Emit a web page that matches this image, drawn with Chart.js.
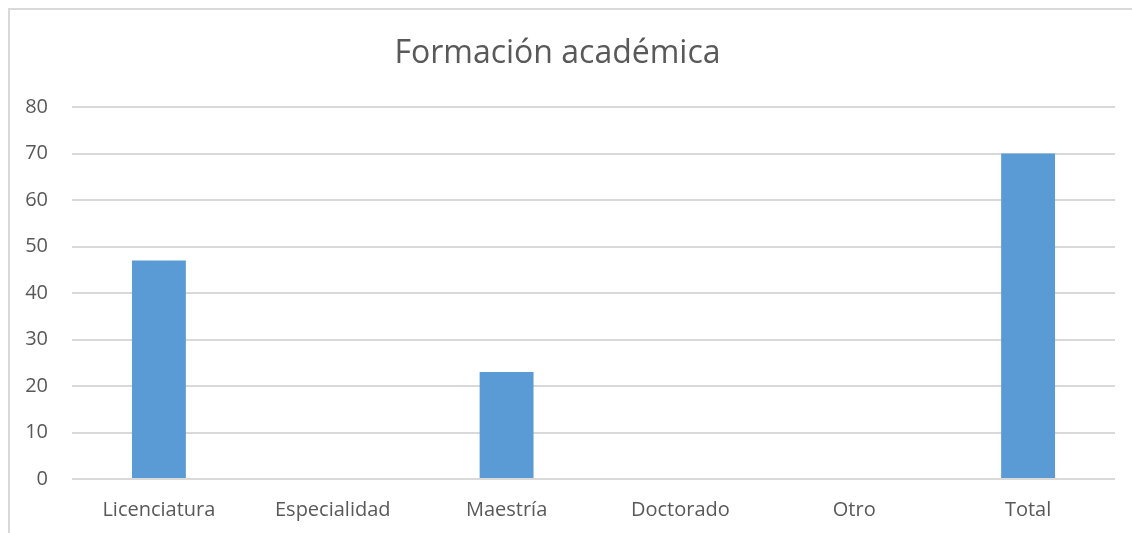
<!DOCTYPE html>
<html>
<head>
<meta charset="utf-8">
<script src="https://cdn.jsdelivr.net/npm/chart.js@4"></script>
<style>
  html, body { margin: 0; padding: 0; background: #fff; }
  #wrap { position: relative; width: 1132px; height: 533px; }
  #frame {
    position: absolute; left: 8px; top: 8px; width: 1124px; height: 525px;
    border-left: 2px solid #d9d9d9; border-top: 2px solid #d9d9d9;
    box-sizing: border-box;
  }
  canvas { position: absolute; left: 0; top: 0; }
</style>
</head>
<body>
<div id="wrap">
  <div id="frame"></div>
  <canvas id="chart" width="1132" height="533"></canvas>
</div>
<script>
var categories = ["Licenciatura", "Especialidad", "Maestría", "Doctorado", "Otro", "Total"];
var values = [47, 0, 23, 0, 0, 70];
var yTicks = [0, 10, 20, 30, 40, 50, 60, 70, 80];

var textColor = "#595959";
var fontFamily = "'Open Sans', sans-serif";

new Chart(document.getElementById("chart"), {
  type: 'bar',
  data: {
    labels: categories,
    datasets: [{
      label: "Formación académica",
      backgroundColor: "#5b9bd5",
      data: values,
      barPercentage: 0.62,
      categoryPercentage: 0.5
    }]
  },
  options: {
    responsive: false,
    animation: false,
    layout: { padding: { left: 0, right: 17, top: 0, bottom: 0 } },
    plugins: {
      legend: { display: false },
      tooltip: { enabled: false },
      title: {
        display: true,
        text: "Formación académica",
        color: textColor,
        font: { family: fontFamily, size: 32, weight: 'normal', lineHeight: 1.2 },
        padding: { top: 35, bottom: 33.6 }
      }
    },
    scales: {
      x: {
        grid: { display: false, drawTicks: false },
        border: { display: false },
        ticks: {
          color: textColor, padding: 19, maxRotation: 0, autoSkip: false,
          font: { family: fontFamily, size: 20 }
        },
        afterFit: function (scale) { scale.height = 54; }
      },
      y: {
        min: yTicks[0],
        max: yTicks[yTicks.length - 1],
        afterBuildTicks: function (scale) {
          scale.ticks = yTicks.map(function (v) { return { value: v }; });
        },
        grid: { color: "#d9d9d9", lineWidth: 2, drawTicks: false },
        border: { display: false },
        ticks: {
          color: textColor, padding: 24,
          font: { family: fontFamily, size: 20 }
        },
        afterFit: function (scale) { scale.width = 72; }
      }
    }
  }
});
</script>
</body>
</html>
